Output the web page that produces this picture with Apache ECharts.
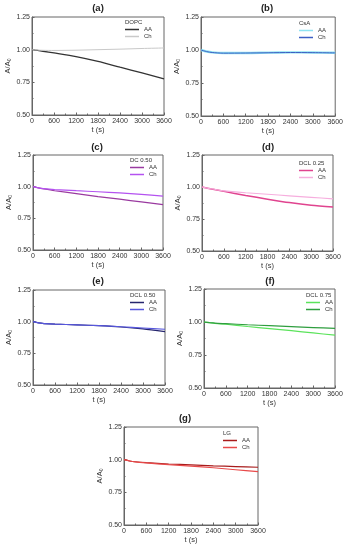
<!DOCTYPE html>
<html>
<head>
<meta charset="utf-8">
<script src="https://cdn.jsdelivr.net/npm/echarts@6/dist/echarts.min.js"></script>
<style>
html,body{margin:0;padding:0;background:#fff;}
#c{width:346px;height:550px;}
</style>
</head>
<body>
<div id="c"></div>
<script>
// ---- data ----
const time = [0, 150, 300, 600, 1200, 1800, 2400, 3000, 3600];
const xTicks = [0, 600, 1200, 1800, 2400, 3000, 3600];
const yTicks = [0.50, 0.75, 1.00, 1.25];
const panelLabels = ['(a)', '(b)', '(c)', '(d)', '(e)', '(f)', '(g)'];
const sampleNames = ['DOPC', 'CsA', 'DC 0.50', 'DCL 0.25', 'DCL 0.50', 'DCL 0.75', 'LG'];
const seriesNames = ['AA', 'Ch'];

const dopcAA = [1.000, 0.994, 0.988, 0.975, 0.947, 0.910, 0.866, 0.822, 0.776];
const dopcCh = [1.000, 0.997, 0.995, 0.994, 0.996, 1.000, 1.004, 1.009, 1.013];
const csaAA  = [1.000, 0.989, 0.982, 0.977, 0.977, 0.980, 0.982, 0.981, 0.979];
const csaCh  = [1.000, 0.988, 0.981, 0.976, 0.977, 0.979, 0.981, 0.980, 0.978];
const dc050AA = [1.000, 0.990, 0.982, 0.968, 0.945, 0.922, 0.901, 0.880, 0.858];
const dc050Ch = [1.000, 0.990, 0.984, 0.977, 0.968, 0.960, 0.951, 0.939, 0.926];
const dcl025AA = [1.000, 0.990, 0.982, 0.966, 0.934, 0.905, 0.878, 0.857, 0.843];
const dcl025Ch = [1.000, 0.990, 0.984, 0.970, 0.955, 0.943, 0.931, 0.919, 0.907];
const dcl050AA = [1.000, 0.990, 0.985, 0.980, 0.975, 0.968, 0.958, 0.943, 0.922];
const dcl050Ch = [1.000, 0.990, 0.985, 0.980, 0.975, 0.968, 0.960, 0.950, 0.940];
const dcl075AA = [1.000, 0.995, 0.990, 0.983, 0.966, 0.950, 0.934, 0.917, 0.900];
const dcl075Ch = [1.000, 0.995, 0.991, 0.987, 0.979, 0.972, 0.965, 0.958, 0.951];
const lgAA = [1.000, 0.990, 0.984, 0.977, 0.967, 0.960, 0.953, 0.947, 0.942];
const lgCh = [1.000, 0.990, 0.983, 0.975, 0.962, 0.950, 0.938, 0.923, 0.908];

// ---- layout / style ----
const panels = [
  {aa: dopcAA,   ch: dopcCh,   colors: ['#333333', '#c9c9c9'], widths: [1.3, 1], grid: {left: 32, top: 17, width: 132, height: 98}, tx: 98, ty: 3, lx: 125, ly: 19},
  {aa: csaAA,    ch: csaCh,    colors: ['#8fe3f2', '#3d5fc4'], widths: [2.4, 1], grid: {left: 201, top: 17, width: 140, height: 99}, tx: 267, ty: 3, lx: 299, ly: 20},
  {aa: dc050AA,  ch: dc050Ch,  colors: ['#9a3aa0', '#b452f0'], widths: [1.2, 1.2], grid: {left: 33, top: 155, width: 130, height: 95}, tx: 97, ty: 142, lx: 130, ly: 157},
  {aa: dcl025AA, ch: dcl025Ch, colors: ['#e0448f', '#f6aede'], widths: [1.5, 1.1], grid: {left: 202, top: 155, width: 131, height: 96}, tx: 268, ty: 142, lx: 299, ly: 160},
  {aa: dcl050AA, ch: dcl050Ch, colors: ['#26266e', '#5757dd'], widths: [1.2, 1.2], grid: {left: 33, top: 290, width: 132, height: 95}, tx: 98, ty: 276, lx: 130, ly: 292},
  {aa: dcl075AA, ch: dcl075Ch, colors: ['#5be35b', '#2f9e3f'], widths: [1.2, 1.2], grid: {left: 204, top: 289, width: 131, height: 99}, tx: 270, ty: 276, lx: 306, ly: 292},
  {aa: lgAA,     ch: lgCh,     colors: ['#a81c1c', '#e84a4a'], widths: [1.2, 1.2], grid: {left: 124, top: 427, width: 134, height: 98}, tx: 185, ty: 413, lx: 223, ly: 430}
];

const FONT = '"Liberation Sans", Arial, sans-serif';
const axisColor = '#666';
const textColor = '#333';

const option = {
  animation: false,
  backgroundColor: '#fff',
  textStyle: {fontFamily: FONT},
  grid: [], xAxis: [], yAxis: [], series: [], title: [], legend: []
};

panels.forEach((p, i) => {
  option.grid.push(Object.assign({show: true, borderColor: axisColor, borderWidth: 1, backgroundColor: 'transparent'}, p.grid));
  option.xAxis.push({
    type: 'value', gridIndex: i, min: xTicks[0], max: xTicks[xTicks.length - 1], interval: xTicks[1] - xTicks[0],
    name: 't (s)', nameLocation: 'middle', nameGap: 11,
    nameTextStyle: {fontSize: 7.5, color: textColor, fontFamily: FONT},
    axisLine: {show: true, lineStyle: {color: axisColor, width: 1}},
    axisTick: {show: true, inside: true, length: 2.5, lineStyle: {color: axisColor}},
    minorTick: {show: true, splitNumber: 2, length: 1.5, lineStyle: {color: axisColor}},
    axisLabel: {fontSize: 7, color: textColor, margin: 2.5, fontFamily: FONT, showMaxLabel: true, showMinLabel: true, formatter: v => String(v)},
    splitLine: {show: false}
  });
  option.yAxis.push({
    type: 'value', gridIndex: i, min: yTicks[0], max: yTicks[yTicks.length - 1], interval: yTicks[1] - yTicks[0],
    name: '{m|A/A}{s|0}', nameLocation: 'middle', nameGap: 19, nameRotate: 90,
    nameTextStyle: {fontSize: 7.5, color: textColor, fontFamily: FONT,
      rich: {m: {fontSize: 7.5, color: textColor, fontFamily: FONT}, s: {fontSize: 5, color: textColor, fontFamily: FONT, verticalAlign: 'bottom', padding: [4, 0, 0, 0]}}},
    axisLine: {show: true, lineStyle: {color: axisColor, width: 1}},
    axisTick: {show: true, inside: true, length: 2.5, lineStyle: {color: axisColor}},
    minorTick: {show: true, splitNumber: 2, length: 1.5, lineStyle: {color: axisColor}},
    axisLabel: {fontSize: 7, color: textColor, margin: 2, fontFamily: FONT, formatter: v => v.toFixed(2)},
    splitLine: {show: false}
  });
  const vals = [p.aa, p.ch];
  seriesNames.forEach((sn, k) => {
    option.series.push({
      type: 'line', name: i + '|' + sn, xAxisIndex: i, yAxisIndex: i,
      data: time.map((t, j) => [t, vals[k][j]]),
      smooth: 0.25, symbol: 'none', showSymbol: false,
      lineStyle: {color: p.colors[k], width: p.widths[k]},
      itemStyle: {color: p.colors[k]},
      z: 2 + k
    });
  });
  option.title.push({
    text: panelLabels[i], left: p.tx, top: p.ty, textAlign: 'center', padding: 0,
    textStyle: {fontSize: 9.5, fontWeight: 'bold', color: '#222', fontFamily: FONT}
  });
  option.title.push({
    text: sampleNames[i], left: p.lx, top: p.ly, padding: 0,
    textStyle: {fontSize: 6, fontWeight: 'normal', color: textColor, fontFamily: FONT}
  });
  option.legend.push({
    data: seriesNames.map(sn => i + '|' + sn),
    formatter: name => name.split('|')[1],
    orient: 'vertical', left: p.lx, top: p.ly + 7, padding: 0, itemGap: 0,
    icon: 'rect', itemWidth: 14, itemHeight: 1.5,
    textStyle: {fontSize: 6, color: textColor, fontFamily: FONT, lineHeight: 7},
    selectedMode: false
  });
});

const chart = echarts.init(document.getElementById('c'), null, {renderer: 'canvas'});
chart.setOption(option);
</script>
</body>
</html>
